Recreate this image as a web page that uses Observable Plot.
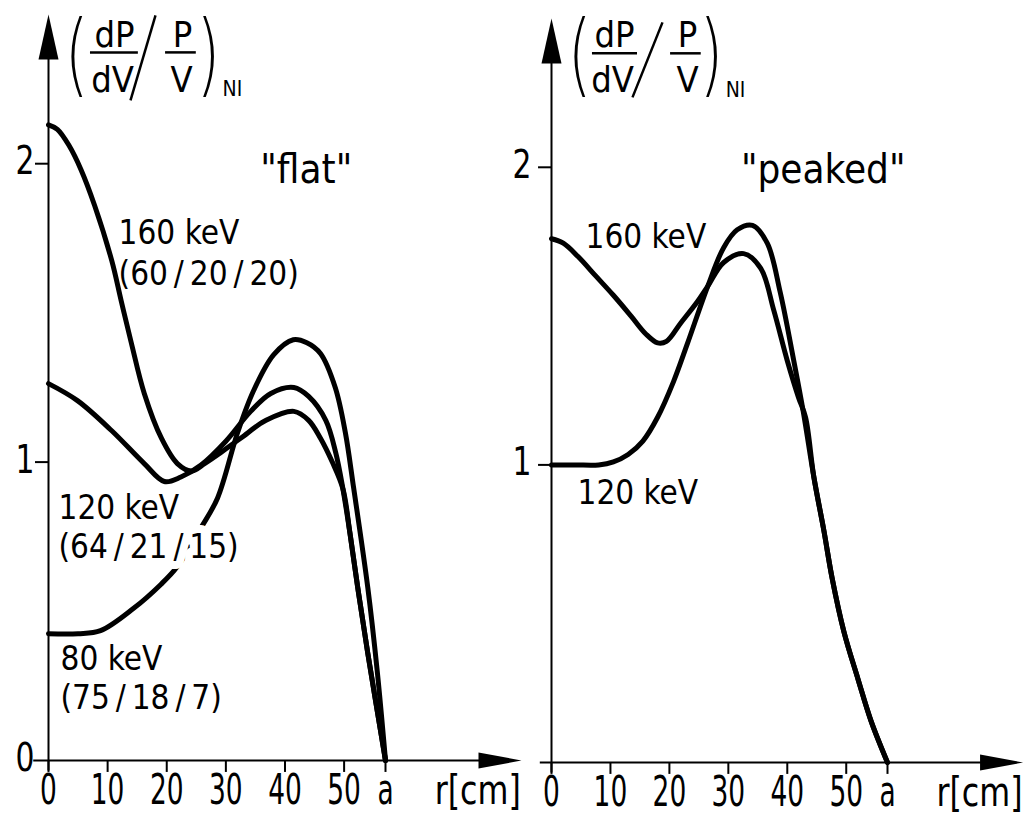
<!DOCTYPE html>
<html>
<head>
<meta charset="utf-8">
<script src="https://cdn.jsdelivr.net/npm/d3@7"></script>
<script src="https://cdn.jsdelivr.net/npm/@observablehq/plot@0.6"></script>
<style>
  html, body { margin: 0; padding: 0; background: #fff; }
  #chart { position: relative; width: 1031px; height: 816px; overflow: hidden; background: #fff; }
  #chart svg { position: absolute; left: 0; top: 0; }
  #chart g[stroke="white"] text, #chart text[stroke="white"] { paint-order: stroke; }
</style>
</head>
<body>
<div id="chart"></div>
<script>
// ---------------- data ----------------
// radius r [cm] vs normalized power deposition (dP/dV)/(P/V)
const edgeRadius = 57;                 // plasma radius "a"
const xTicks = [0, 10, 20, 30, 40, 50];
const yTicksFlat = [0, 1, 2];
const yTicksPeaked = [1, 2];

// "flat" density profile
const flat160 = [[0,2.13],[1.5,2.115],[3.5,2.06],[5.5,1.98],[7.8,1.86],[10.7,1.675],[12.3,1.54],[14,1.40],[16.2,1.23],[19.1,1.08],[21.8,0.995],[24.2,0.97],[26.4,0.995],[29,1.03],[32.5,1.08],[36.8,1.14],[41.5,1.17],[44,1.14],[46,1.08],[48,1.0],[49.8,0.91],[51,0.76],[52.3,0.58],[54,0.36],[57,0]];
const flat120 = [[0,1.263],[4.9,1.206],[10.7,1.105],[16.2,0.995],[19.6,0.935],[22.4,0.95],[25.8,0.99],[30,1.07],[34.2,1.17],[37.6,1.23],[41.5,1.25],[44,1.22],[46.9,1.14],[48.6,1.03],[49.8,0.91],[51,0.76],[52.3,0.58],[54,0.36],[57,0]];
const flat80  = [[0,0.425],[5,0.425],[8.8,0.435],[14.4,0.51],[19,0.59],[21.8,0.65],[25.8,0.78],[28.6,0.88],[32,1.10],[34.7,1.24],[38.1,1.36],[41.4,1.41],[43.7,1.40],[46,1.364],[48.5,1.25],[50.2,1.10],[51.6,0.915],[54,0.58],[55.6,0.30],[57,0]];

// "peaked" density profile
const peaked160 = [[0,1.76],[2,1.745],[4.5,1.70],[7.5,1.635],[10.5,1.57],[13.5,1.50],[16,1.44],[18,1.41],[19.5,1.415],[21.9,1.476],[24.8,1.55],[26.5,1.60],[29.2,1.68],[32.6,1.71],[35.5,1.66],[37.7,1.52],[40,1.35],[41.9,1.227],[43.1,1.16],[44.5,0.96],[46.2,0.78],[47.6,0.62],[49.6,0.44],[52,0.28],[54.2,0.14],[57,0]];
const peaked120 = [[0,1.0],[4,1.0],[8,1.0],[10.5,1.01],[13,1.035],[15.5,1.08],[18,1.16],[20.7,1.28],[23.1,1.41],[26.5,1.60],[29.2,1.73],[31.5,1.79],[34.1,1.805],[36.6,1.745],[38.8,1.58],[41.1,1.35],[42.7,1.18],[44.5,0.96],[46.2,0.78],[47.6,0.62],[49.6,0.44],[52,0.28],[54.2,0.14],[57,0]];

// text
const flatTitle = "\"flat\"";
const peakedTitle = "\"peaked\"";
const flatCurveLabels = ["160 keV", "(60\u2009/\u200920\u2009/\u200920)", "120 keV", "(64\u2009/\u200921\u2009/\u200915)", "80 keV", "(75\u2009/\u200918\u2009/\u20097)"];
const peakedCurveLabels = ["160 keV", "120 keV"];
const xAxisTitle = "r[cm]";
const edgeLabel = "a";

// ---------------- layout (annotation placement, in data units) ----------------
const FONT = '"Liberation Sans Narrow","DejaVu Sans Condensed","Roboto Condensed","Liberation Sans",sans-serif';
const arrowTipR = 80;      // x-axis arrow tip, cm
const arrowTipV = 2.5;     // y-axis arrow tip

// font sizes double as keys for the horizontal squeeze applied after rendering
const SIZE = {xtick: 42, xtitle: 41.5, ytick: 39, label: 33, title: 40, term: 36, sub: 21, paren: 76};
const SQUEEZE = {42: [0.7, 1], 41.5: [0.85, 1], 39: [0.85, 1], 76: [0.8, 1.2]};

const flatLayout = {
  margins: {marginLeft: 48, marginRight: 646, marginTop: 14, marginBottom: 56},
  axisStart: -2.5, yLabelDx: -14, yTicks: yTicksFlat,
  series: [flat160, flat120, flat80],
  title: {text: flatTitle, r: 43.6, v: 1.977},
  labels: [
    {text: flatCurveLabels[0], r: 11.85, v: 1.766},
    {text: flatCurveLabels[1], r: 11.85, v: 1.629},
    {text: flatCurveLabels[2], r: 1.69, v: 0.845},
    {text: flatCurveLabels[3], r: 1.69, v: 0.714, halo: true},
    {text: flatCurveLabels[4], r: 2.03, v: 0.338},
    {text: flatCurveLabels[5], r: 2.03, v: 0.208}
  ],
  frac: {
    open: {text: "(", r: 6.77, v: 2.363},
    close: {text: ")", r: 25.03, v: 2.363},
    terms: [{text: "dP", r: 11.16, v: 2.43}, {text: "dV", r: 10.83, v: 2.279},
            {text: "P", r: 22.67, v: 2.43}, {text: "V", r: 22.5, v: 2.279}],
    sub: {text: "NI", r: 29.45, v: 2.249},
    bars: [{r1: 7.1, r2: 15.2, v: 2.373}, {r1: 19.8, r2: 25.0, v: 2.373}],
    slash: {r1: 13.87, v1: 2.212, r2: 18.1, v2: 2.497}
  }
};

const peakedLayout = {
  margins: {marginLeft: 551, marginRight: 144, marginTop: 18, marginBottom: 54},
  axisStart: -1.9, yLabelDx: -20, yTicks: yTicksPeaked,
  series: [peaked160, peaked120],
  title: {text: peakedTitle, r: 46.1, v: 1.99},
  labels: [
    {text: peakedCurveLabels[0], r: 5.77, v: 1.765},
    {text: peakedCurveLabels[1], r: 4.41, v: 0.904}
  ],
  frac: {
    open: {text: "(", r: 6.79, v: 2.376},
    close: {text: ")", r: 25.1, v: 2.376},
    terms: [{text: "dP", r: 10.69, v: 2.444}, {text: "dV", r: 10.35, v: 2.292},
            {text: "P", r: 23.07, v: 2.444}, {text: "V", r: 23.07, v: 2.292}],
    sub: {text: "NI", r: 29.55, v: 2.259},
    bars: [{r1: 6.95, r2: 14.59, v: 2.383}, {r1: 20.2, r2: 25.4, v: 2.383}],
    slash: {r1: 13.74, v1: 2.235, r2: 18.83, v2: 2.487}
  }
};

// filled, elongated arrowheads (pixel shapes, anchored at the tip)
const arrowRight = {draw(ctx) { ctx.moveTo(0, 0); ctx.lineTo(-43, -8); ctx.lineTo(-43, 8); ctx.closePath(); }};
const arrowUp = {draw(ctx) { ctx.moveTo(0, 0); ctx.lineTo(-10, 45); ctx.lineTo(10, 45); ctx.closePath(); }};

function panel(L) {
  const marks = [];
  const ink = "black";
  // axes
  marks.push(Plot.ruleY([0], {x1: L.axisStart, x2: arrowTipR - 5, stroke: ink, strokeWidth: 2}));
  marks.push(Plot.ruleX([0], {y1: -0.035, y2: arrowTipV - 0.1, stroke: ink, strokeWidth: 2}));
  marks.push(Plot.dot([0], {x: arrowTipR, y: 0, symbol: arrowRight, fill: ink, stroke: "none"}));
  marks.push(Plot.dot([0], {x: 0, y: arrowTipV, symbol: arrowUp, fill: ink, stroke: "none"}));
  // ticks
  marks.push(Plot.ruleX([...xTicks, edgeRadius], {x: d => d, y1: 0, y2: -0.04, stroke: ink, strokeWidth: 2}));
  marks.push(Plot.ruleY(L.yTicks.filter(d => d > 0), {y: d => d, x1: -2.2, x2: 0, stroke: ink, strokeWidth: 2}));
  // tick labels
  marks.push(Plot.text([...xTicks, edgeRadius], {
    x: d => d, y: 0, dy: 30, text: d => d === edgeRadius ? edgeLabel : String(d),
    fontSize: SIZE.xtick, fontFamily: FONT, fill: ink
  }));
  marks.push(Plot.text([xAxisTitle], {x: 72.6, y: 0, dy: 30, text: d => d, fontSize: SIZE.xtitle, fontFamily: FONT, fill: ink}));
  marks.push(Plot.text(L.yTicks, {x: 0, y: d => d, dx: L.yLabelDx, dy: -2, text: d => String(d), textAnchor: "end", fontSize: SIZE.ytick, fontFamily: FONT, fill: ink}));
  // curves
  for (const s of L.series) {
    marks.push(Plot.line(s, {x: d => d[0], y: d => d[1], curve: "catmull-rom", stroke: ink, strokeWidth: 5, strokeLinejoin: "round", strokeLinecap: "round"}));
  }
  // curve labels (the one that sits on a curve gets a white halo that interrupts the line)
  marks.push(Plot.text(L.labels.filter(d => !d.halo), {x: "r", y: "v", text: "text", textAnchor: "start", fontSize: SIZE.label, fontFamily: FONT, fill: ink}));
  marks.push(Plot.text(L.labels.filter(d => d.halo), {x: "r", y: "v", text: "text", textAnchor: "start", fontSize: SIZE.label, fontFamily: FONT, fill: ink, stroke: "white", strokeWidth: 16}));
  marks.push(Plot.text([L.title], {x: "r", y: "v", text: "text", textAnchor: "middle", fontSize: SIZE.title, fontFamily: FONT, fill: ink}));
  // axis quantity (dP/dV / P/V)_NI
  const F = L.frac;
  const parenFont = '"DejaVu Sans", sans-serif';
  marks.push(Plot.text([F.open], {x: "r", y: "v", text: "text", textAnchor: "end", fontSize: SIZE.paren, fontWeight: 200, fontFamily: parenFont, fill: ink}));
  marks.push(Plot.text([F.close], {x: "r", y: "v", text: "text", textAnchor: "start", fontSize: SIZE.paren, fontWeight: 200, fontFamily: parenFont, fill: ink}));
  marks.push(Plot.text(F.terms, {x: "r", y: "v", text: "text", fontSize: SIZE.term, fontFamily: FONT, fill: ink}));
  marks.push(Plot.text([F.sub], {x: "r", y: "v", text: "text", textAnchor: "start", fontSize: SIZE.sub, fontFamily: FONT, fill: ink}));
  marks.push(Plot.ruleY(F.bars, {y: "v", x1: "r1", x2: "r2", stroke: ink, strokeWidth: 2.5}));
  marks.push(Plot.link([F.slash], {x1: "r1", y1: "v1", x2: "r2", y2: "v2", stroke: ink, strokeWidth: 2.5}));

  return Plot.plot({
    width: 1031, height: 816,
    ...L.margins,
    x: {domain: [0, edgeRadius], axis: null},
    y: {domain: [0, 2.5], axis: null},
    style: {background: "transparent", overflow: "visible", fontFamily: FONT, color: "black"},
    marks
  });
}

// narrow the lettering like the stencil font of the original (scale about each text's anchor)
function squeeze(svg) {
  svg.querySelectorAll("text").forEach(t => {
    const holder = t.closest("[font-size]");
    const fs = holder ? parseFloat(holder.getAttribute("font-size")) : NaN;
    const k = SQUEEZE[fs];
    if (!k) return;
    let tr = t.getAttribute("transform");
    if (!tr) {
      const x = +t.getAttribute("x") || 0, y = +t.getAttribute("y") || 0;
      t.setAttribute("x", 0); t.setAttribute("y", 0);
      tr = `translate(${x},${y})`;
    }
    t.setAttribute("transform", `${tr} scale(${k[0]},${k[1]})`);
  });
}

const chart = document.getElementById("chart");
for (const L of [flatLayout, peakedLayout]) {
  const svg = panel(L);
  squeeze(svg);
  chart.append(svg);
}
</script>
</body>
</html>
